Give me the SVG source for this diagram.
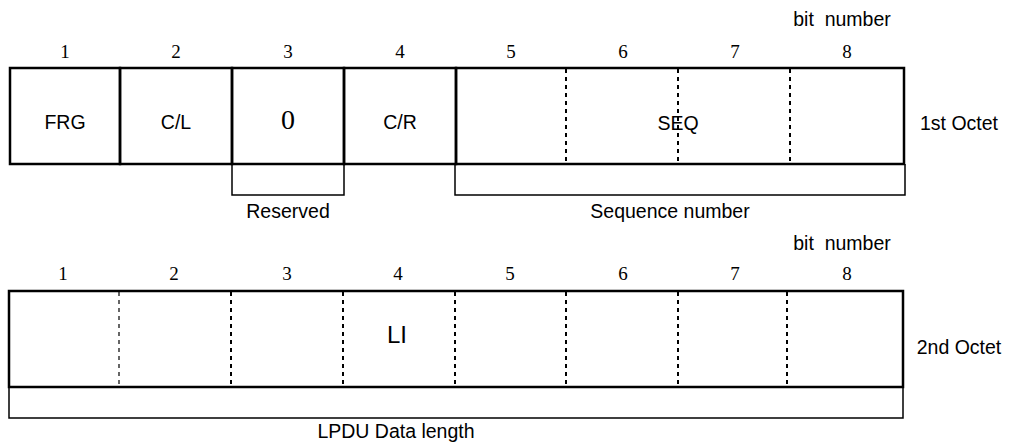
<svg xmlns="http://www.w3.org/2000/svg" width="1010" height="443" viewBox="0 0 1010 443">
<style>
.box{fill:none;stroke:#000;stroke-width:2.5}
.br{fill:none;stroke:#000;stroke-width:1.5}
.dot{stroke:#000;stroke-width:2;stroke-dasharray:4 4}
.dot1{stroke:#000;stroke-width:1.2;stroke-dasharray:4 4}
.t{font-family:"Liberation Sans",Arial,sans-serif;font-size:19.5px;fill:#000;text-anchor:middle}
.s{font-family:"Liberation Serif","Times New Roman",serif;font-size:19px;fill:#000;text-anchor:middle}
</style>
<rect width="1010" height="443" fill="#fff"/>
<g id="octet1">
<text class="t" x="842" y="26">bit&#160; number</text>
<g class="s">
<text x="65" y="58">1</text><text x="176" y="58">2</text><text x="288" y="58">3</text><text x="400" y="58">4</text>
<text x="511" y="58">5</text><text x="623" y="58">6</text><text x="735" y="58">7</text><text x="847" y="58">8</text>
</g>
<g id="frg"><rect class="box" x="10" y="68" width="110" height="96"/><text class="t" x="65" y="129">FRG</text></g>
<g id="cl"><rect class="box" x="120" y="68" width="112" height="96"/><text class="t" x="176" y="129">C/L</text></g>
<g id="zero"><rect class="box" x="232" y="68" width="112" height="96"/><text class="s" x="288" y="129" style="font-size:28px">0</text></g>
<g id="cr"><rect class="box" x="344" y="68" width="112" height="96"/><text class="t" x="400" y="129">C/R</text></g>
<g id="seq"><rect class="box" x="456" y="68" width="448" height="96"/>
<line class="dot" x1="566" y1="69" x2="566" y2="163"/><line class="dot" x1="678" y1="69" x2="678" y2="163"/><line class="dot" x1="790" y1="69" x2="790" y2="163"/>
<text class="t" x="678" y="130">SEQ</text></g>
<text class="t" x="959" y="130">1st Octet</text>
<g id="reserved"><path class="br" d="M232,164 V195 H344 V164"/><text class="t" x="288" y="218">Reserved</text></g>
<g id="seqnum"><path class="br" d="M455,164 V195 H905 V164"/><text class="t" x="670" y="218">Sequence number</text></g>
</g>
<g id="octet2">
<text class="t" x="842" y="250">bit&#160; number</text>
<g class="s">
<text x="63" y="280">1</text><text x="174" y="280">2</text><text x="287" y="280">3</text><text x="398" y="280">4</text>
<text x="510" y="280">5</text><text x="623" y="280">6</text><text x="735" y="280">7</text><text x="847" y="280">8</text>
</g>
<g id="li"><rect class="box" x="9" y="291" width="894" height="96"/>
<line class="dot1" x1="119" y1="292" x2="119" y2="386"/>
<line class="dot" x1="231" y1="292" x2="231" y2="386"/><line class="dot" x1="343" y1="292" x2="343" y2="386"/>
<line class="dot" x1="455" y1="292" x2="455" y2="386"/><line class="dot" x1="566" y1="292" x2="566" y2="386"/>
<line class="dot" x1="678" y1="292" x2="678" y2="386"/><line class="dot" x1="787" y1="292" x2="787" y2="386"/>
<text class="t" x="397" y="343" style="font-size:24px">LI</text></g>
<text class="t" x="959" y="354">2nd Octet</text>
<g id="lpdu"><path class="br" d="M9,387 V418 H903 V387"/><text class="t" x="396" y="438">LPDU Data length</text></g>
</g>
</svg>
